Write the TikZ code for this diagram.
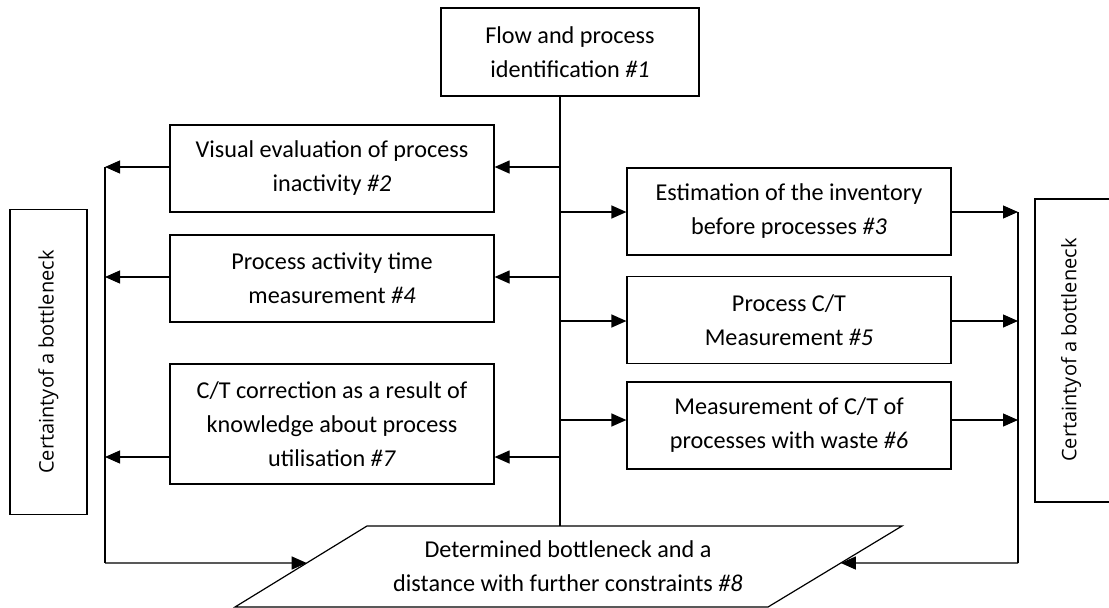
\documentclass[tikz,border=0pt]{standalone}
\usepackage{fontspec}
\setmainfont{Carlito}
\newfontfamily\sidefont{Open Sans}
\usetikzlibrary{arrows.meta}
\usetikzlibrary{positioning}

\tikzset{
    stage/.style={draw, line width=1.2pt, minimum width=324pt, minimum height=87pt,
        align=center, inner sep=0pt, font=\fontsize{24.2}{34}\selectfont},
    link/.style={line width=1.2pt, -{Triangle[length=15pt,width=13pt]}},
    wire/.style={line width=1.2pt},
    certain/.style={rotate=90, inner sep=0pt, font=\sidefont\fontsize{20}{22}\selectfont},
}

\begin{document}
\begin{tikzpicture}[x=1pt, y=-1pt]
    \useasboundingbox (0,0) rectangle (1109,608);
    % top and the spine
    \node[stage, minimum width=258pt, minimum height=88pt] (s1) at (570,52)
        {Flow and process\\identification \emph{\#1}};
    \coordinate (top) at (560,96);
    \coordinate (bot) at (560,526);
    \draw[wire] (top) -- (bot);
    % left column
    \node[stage] (s2) at (332,168.5) {Visual evaluation of process\\inactivity \emph{\#2}};
    \node[stage] (s4) at (332,278.5) {Process activity time\\measurement \emph{\#4}};
    \node[stage, minimum height=120pt] (s7) at (332,424)
        {C/T correction as a result of\\knowledge about process\\utilisation \emph{\#7}};
    % right column
    \node[stage] (s3) at (789,211.5) {Estimation of the inventory\\before processes \emph{\#3}};
    \node[stage] (s5) at (789,320) {Process C/T\\Measurement \emph{\#5}};
    \node[stage] (s6) at (789,425.5) {Measurement of C/T of\\processes with waste \emph{\#6}};
    % buses
    \coordinate (ltop) at (105,167);
    \coordinate (lbot) at (105,563);
    \coordinate (rtop) at (1018,212);
    \coordinate (rbot) at (1018,563);
    \draw[wire] (ltop) -- (lbot);
    \draw[wire] (rtop) -- (rbot);
    % spine to boxes
    \foreach \b/\y in {s2/167, s4/277, s7/457} {
        \coordinate (j\b) at (560,\y);
        \draw[link] (j\b) -- (j\b -| \b.east);
        \draw[link] (j\b -| \b.west) -- (j\b -| ltop);
    }
    \foreach \b/\y in {s3/212, s5/321, s6/420} {
        \coordinate (j\b) at (560,\y);
        \draw[link] (j\b) -- (j\b -| \b.west);
        \draw[link] (j\b -| \b.east) -- (j\b -| rtop);
    }
    % result
    \coordinate (p1) at (367,526);
    \coordinate (p2) at (902,526);
    \coordinate (p3) at (768,607);
    \coordinate (p4) at (235,607);
    \draw[wire] (p1) -- (p2) -- (p3) -- (p4) -- cycle;
    \node[align=center, font=\fontsize{24.2}{34}\selectfont] (s8) at (568,566)
        {Determined bottleneck and a\\distance with further constraints \emph{\#8}};
    \draw[link] (lbot) -- (intersection of p1--p4 and lbot--rbot);
    \draw[link] (rbot) -- (intersection of p2--p3 and lbot--rbot);
    % side boxes
    \node[certain, draw, line width=1.2pt, minimum width=305pt, minimum height=77pt] (lcert) at (48.5,362)
        {Certaintyof a bottleneck};
    \draw[wire] (1112,199) -- (1035,199) -- (1035,502) -- (1112,502);
    \node[certain] (rcert) at (1071,350) {Certaintyof a bottleneck};
\end{tikzpicture}
\end{document}
